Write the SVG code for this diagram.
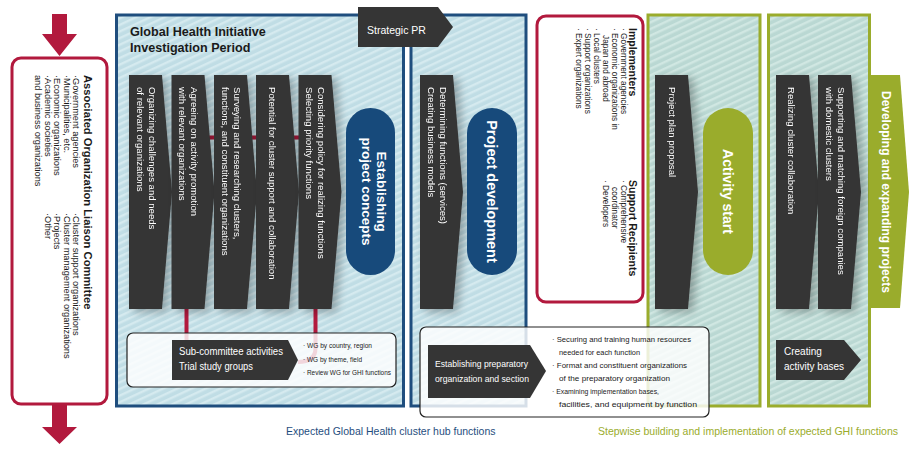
<svg xmlns="http://www.w3.org/2000/svg" width="921" height="461" viewBox="0 0 921 461">
<defs>
<pattern id="stripeB" width="6" height="6" patternUnits="userSpaceOnUse" patternTransform="rotate(-25)">
<rect width="6" height="6" fill="#c0dde5"/><rect width="6" height="2.4" fill="#d5eaef"/>
</pattern>
<pattern id="stripeG" width="6" height="6" patternUnits="userSpaceOnUse" patternTransform="rotate(-25)">
<rect width="6" height="6" fill="#bad8d3"/><rect width="6" height="2.4" fill="#d0e7e2"/>
</pattern>
<filter id="sh" x="-40%" y="-10%" width="180%" height="125%">
<feGaussianBlur in="SourceAlpha" stdDeviation="5"/>
<feOffset dx="5" dy="3"/>
<feComponentTransfer><feFuncA type="linear" slope="0.3"/></feComponentTransfer>
<feMerge><feMergeNode/><feMergeNode in="SourceGraphic"/></feMerge>
</filter>
<path id="col" d="M0,0 H33 L43,117 L33,234 H0 Z"/>
</defs>
<style>
text{font-family:"Liberation Sans",Arial,sans-serif;}
.ct{font-size:9.6px;fill:#fff;}
.wt{fill:#fff;}
.b{font-weight:bold;}
.dk{fill:#1a1a1a;}
.colf{fill:#353535;}
.bf{fill:url(#stripeB);stroke:#1f4e7e;stroke-width:3;}
.gf{fill:url(#stripeG);stroke:#9aac2c;stroke-width:3;}
.red{fill:none;stroke:#b2193d;stroke-width:4;}
.note{fill:#fff;fill-opacity:0.82;stroke:#222;stroke-width:1.2;}
</style>

<!-- Left committee -->
<g id="liaison">
<path d="M52,14 H67 V34 H77 L59.5,56 L42,34 H52 Z" fill="#b2193d"/>
<path d="M52,404 H67 V427 H77 L59.5,444 L42,427 H52 Z" fill="#b2193d"/>
<rect x="12" y="58" width="95" height="346" rx="9" fill="#fff" stroke="#b2193d" stroke-width="3"/>
<text class="b dk" font-size="11.2" transform="translate(84,75) rotate(90)">Associated Organization Liaison Committee</text>
<g font-size="9.2" class="dk">
<text transform="translate(73,75) rotate(90)">·Government agencies</text>
<text transform="translate(63.5,75) rotate(90)">·Municipalities, etc.</text>
<text transform="translate(54,75) rotate(90)">·Economic organizations</text>
<text transform="translate(44.5,75) rotate(90)">·Academic societies</text>
<text transform="translate(35,75) rotate(90)">and business organizations</text>
<text transform="translate(73,213) rotate(90)">·Cluster support organizations</text>
<text transform="translate(63.5,213) rotate(90)">·Cluster management organizations</text>
<text transform="translate(54,213) rotate(90)">·Projects</text>
<text transform="translate(44.5,213) rotate(90)">·Other</text>
</g>
</g>

<!-- Frames -->
<g id="frame-investigation">
<rect class="bf" x="116.5" y="15" width="287" height="391"/>
<text class="b dk" font-size="12.6" x="130" y="36">Global Health Initiative</text>
<text class="b dk" font-size="12.6" x="130" y="52">Investigation Period</text>
</g>
<g id="frame-development"><rect class="bf" x="411" y="15" width="115" height="391"/></g>
<g id="frame-activity"><rect class="gf" x="648" y="15" width="112" height="391"/></g>
<g id="frame-expanding"><rect class="gf" x="768.5" y="15" width="101" height="391"/></g>

<g id="strategic-pr">
<path d="M358,7 H438 L453,27 L438,47 H358 Z" fill="#353535"/>
<text class="wt" font-size="10.5" x="367" y="34">Strategic PR</text>
</g>

<!-- Connectors -->
<g id="connectors">
<line class="red" x1="195" y1="137.5" x2="305" y2="137.5" stroke-width="5"/>
<path class="red" d="M186.5,300 V362"/>
<path class="red" d="M315.5,300 V348 Q315.5,362 298,362"/>
</g>

<!-- Investigation columns -->
<g id="col-organizing" filter="url(#sh)">
<use href="#col" class="colf" x="129" y="75"/>
<text class="ct" transform="translate(148.5,87) rotate(90)">Organizing challenges and needs</text>
<text class="ct" transform="translate(136.5,87) rotate(90)">of relevant organizations</text>
</g>
<g id="col-agreeing" filter="url(#sh)">
<use href="#col" class="colf" x="171.5" y="75"/>
<text class="ct" transform="translate(191,87) rotate(90)">Agreeing on activity promotion</text>
<text class="ct" transform="translate(179,87) rotate(90)">with relevant organizations</text>
</g>
<g id="col-surveying" filter="url(#sh)">
<use href="#col" class="colf" x="214" y="75"/>
<text class="ct" transform="translate(233.5,87) rotate(90)">Surveying and researching clusters,</text>
<text class="ct" transform="translate(221.5,87) rotate(90)">functions, and constituent organizations</text>
</g>
<g id="col-potential" filter="url(#sh)">
<use href="#col" class="colf" x="256" y="75"/>
<text class="ct" transform="translate(268.5,87) rotate(90)">Potential for cluster support and collaboration</text>
</g>
<g id="col-considering" filter="url(#sh)">
<use href="#col" class="colf" x="298.5" y="75"/>
<text class="ct" transform="translate(318,87) rotate(90)">Considering policy for realizing functions</text>
<text class="ct" transform="translate(306,87) rotate(90)">Selecting priority functions</text>
</g>

<g id="establishing">
<rect x="346" y="108" width="49" height="167" rx="24.5" fill="#174a7b"/>
<text class="wt b" font-size="13.5" text-anchor="middle" transform="translate(377,191.5) rotate(90)">Establishing</text>
<text class="wt b" font-size="13.5" text-anchor="middle" transform="translate(362,191.5) rotate(90)">project concepts</text>
</g>

<g id="sub-committee">
<rect class="note" x="127" y="333" width="269" height="54" rx="6"/>
<path d="M172,340 H288 L298,360 L288,380 H172 Z" fill="#353535"/>
<text class="wt" font-size="10" x="179" y="355" textLength="104" lengthAdjust="spacingAndGlyphs">Sub-committee activities</text>
<text class="wt" font-size="10" x="179" y="370" textLength="74" lengthAdjust="spacingAndGlyphs">Trial study groups</text>
<text class="dk" font-size="7.4" x="303" y="348" textLength="69" lengthAdjust="spacingAndGlyphs">· WG by country, region</text>
<text class="dk" font-size="7.4" x="303" y="362" textLength="59" lengthAdjust="spacingAndGlyphs">· WG by theme, field</text>
<text class="dk" font-size="7.4" x="303" y="375" textLength="88" lengthAdjust="spacingAndGlyphs">· Review WG for GHI functions</text>
</g>

<!-- Development -->
<g id="col-determining" filter="url(#sh)">
<use href="#col" class="colf" x="420" y="75"/>
<text class="ct" transform="translate(440,87) rotate(90)">Determining functions (services)</text>
<text class="ct" transform="translate(428,87) rotate(90)">Creating business models</text>
</g>
<g id="project-development">
<rect x="467" y="108" width="50" height="167" rx="25" fill="#174a7b"/>
<text class="wt b" font-size="14.5" text-anchor="middle" transform="translate(487,191.5) rotate(90)">Project development</text>
</g>

<g id="preparatory">
<rect class="note" x="420" y="327" width="289" height="90" rx="6"/>
<path d="M428,345 H530 L546,371 L530,398 H428 Z" fill="#353535"/>
<text class="wt" font-size="9.8" x="435" y="367" textLength="93" lengthAdjust="spacingAndGlyphs">Establishing preparatory</text>
<text class="wt" font-size="9.8" x="435" y="382" textLength="94" lengthAdjust="spacingAndGlyphs">organization and section</text>
<g class="dk" font-size="8">
<text x="552" y="342" textLength="139" lengthAdjust="spacingAndGlyphs">· Securing and training human resources</text>
<text x="559" y="355" textLength="81" lengthAdjust="spacingAndGlyphs">needed for each function</text>
<text x="552" y="368" textLength="135" lengthAdjust="spacingAndGlyphs">· Format and constituent organizations</text>
<text x="559" y="381" textLength="111" lengthAdjust="spacingAndGlyphs">of the preparatory organization</text>
<text x="552" y="394" textLength="107" lengthAdjust="spacingAndGlyphs">· Examining implementation bases,</text>
<text x="559" y="407" textLength="138" lengthAdjust="spacingAndGlyphs">facilities, and equipment by function</text>
</g>
</g>

<!-- Implementers -->
<g id="implementers">
<rect x="537" y="16" width="106" height="286" rx="9" fill="#fff" stroke="#b2193d" stroke-width="3"/>
<text class="b dk" font-size="10.5" transform="translate(629,28) rotate(90)">Implementers</text>
<g class="dk" font-size="8.3">
<text transform="translate(620.5,28) rotate(90)">· Government agencies</text>
<text transform="translate(611.5,28) rotate(90)">· Economic organizations in</text>
<text transform="translate(602.5,35) rotate(90)">Japan and abroad</text>
<text transform="translate(593.5,28) rotate(90)">· Local clusters</text>
<text transform="translate(584.5,28) rotate(90)">· Support organizations</text>
<text transform="translate(575.5,28) rotate(90)">· Expert organizations</text>
</g>
<text class="b dk" font-size="10.5" transform="translate(629,180) rotate(90)">Support Recipients</text>
<g class="dk" font-size="8.3">
<text transform="translate(620.5,180) rotate(90)">· Comprehensive</text>
<text transform="translate(611.5,187) rotate(90)">coordinator</text>
<text transform="translate(602.5,180) rotate(90)">· Developers</text>
</g>
</g>

<!-- Activity -->
<g id="col-plan" filter="url(#sh)">
<use href="#col" class="colf" x="655" y="75"/>
<text class="ct" transform="translate(669,87) rotate(90)">Project plan proposal</text>
</g>
<g id="activity-start">
<rect x="703" y="108" width="50" height="167" rx="25" fill="#9aac2c"/>
<text class="wt b" font-size="14" text-anchor="middle" transform="translate(722.5,191.5) rotate(90)">Activity start</text>
</g>

<!-- Expanding -->
<g id="col-realizing" filter="url(#sh)">
<use href="#col" class="colf" x="776" y="75"/>
<text class="ct" transform="translate(788,87) rotate(90)">Realizing cluster collaboration</text>
</g>
<g id="col-supporting" filter="url(#sh)">
<use href="#col" class="colf" x="818" y="75"/>
<text class="ct" transform="translate(838,87) rotate(90)">Supporting and matching foreign companies</text>
<text class="ct" transform="translate(825.5,87) rotate(90)">with domestic clusters</text>
</g>
<g id="developing">
<path d="M869,75 H900 L909,192 L900,308 H869 Z" fill="#9aac2c"/>
<text class="wt b" font-size="13" text-anchor="middle" textLength="202" lengthAdjust="spacingAndGlyphs" transform="translate(882,192) rotate(90)">Developing and expanding projects</text>
</g>
<g id="activity-bases">
<path d="M776,340 H844 L861,360 L844,380 H776 Z" fill="#353535"/>
<text class="wt" font-size="10" x="784" y="355">Creating</text>
<text class="wt" font-size="10" x="784" y="370">activity bases</text>
</g>

<!-- Captions -->
<text font-size="10.5" fill="#1f4e7e" x="286" y="435">Expected Global Health cluster hub functions</text>
<text font-size="10.5" fill="#9aac2c" x="898" y="435" text-anchor="end">Stepwise building and implementation of expected GHI functions</text>
</svg>
